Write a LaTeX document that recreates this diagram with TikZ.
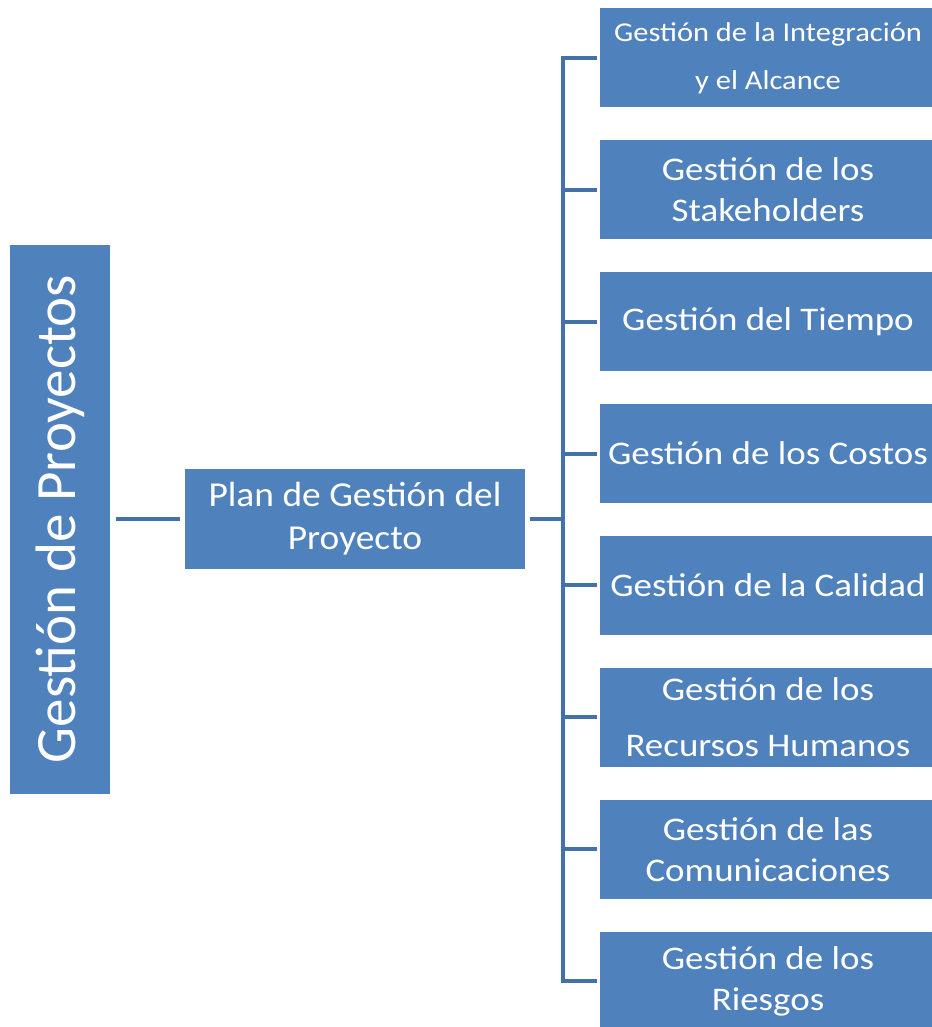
\documentclass[tikz,border=0pt]{standalone}
\usepackage{fontspec}
\setmainfont{Carlito}
\newfontfamily\areafont[FakeStretch=1.12]{Carlito}
\newfontfamily\planfont[FakeStretch=1.07]{Carlito}
\definecolor{boxblue}{HTML}{4F81BD}
\definecolor{linkblue}{HTML}{4472A8}
\newcommand{\smallarea}{\fontsize{20.4}{30.75}\selectfont}
\tikzset{
  areabox/.style={fill=boxblue, text=white, inner sep=0pt, align=center,
    minimum width=252pt, minimum height=74.25pt,
    font=\areafont\fontsize{24.75}{30.75}\selectfont},
  link/.style={draw=linkblue, line width=3pt},
}
\begin{document}
\begin{tikzpicture}[x=0.75pt, y=-0.75pt]
  \useasboundingbox (0,0) rectangle (931,1027);
  %% ── Root and plan ─────────────────────────────────────────
  \node[fill=boxblue, text=white, rotate=90, inner sep=0pt,
        minimum width=411.75pt, minimum height=75pt,
        font=\fontsize{42.75}{50}\selectfont] (root) at (60,519) {Gestión de Proyectos};
  \node[areabox, minimum width=255pt, minimum height=75pt,
        font=\planfont\fontsize{26.25}{32.25}\selectfont] (plan) at (355,519)
        {Plan de Gestión del\\Proyecto};
  \coordinate (bus) at (563,519);
  %% ── Knowledge areas ───────────────────────────────────────
  \foreach \i/\lbl in {
    0/{\smallarea Gestión de la Integración\\[5pt]\smallarea y el Alcance},
    1/{Gestión de los\\Stakeholders},
    2/{Gestión del Tiempo},
    3/{Gestión de los Costos},
    4/{Gestión de la Calidad},
    5/{Gestión de los\\[11pt]Recursos Humanos},
    6/{Gestión de las\\Comunicaciones},
    7/{Gestión de los\\Riesgos}}{
    \node[areabox] (a\i) at (768,{58+131.86*\i}) {\lbl};
  }
  %% ── Connectors ────────────────────────────────────────────
  \draw[link, shorten <=4.5pt, shorten >=3.75pt] (root.south) -- (plan.west);
  \draw[link, shorten <=3.75pt] (plan.east) -- (bus);
  \draw[link, shorten <=2.25pt, shorten >=2.25pt] (a0.west) -| (bus) |- (a7.west);
  \foreach \i in {1,...,6}
    \draw[link, shorten >=2.25pt] (bus |- a\i.west) -- (a\i.west);
\end{tikzpicture}
\end{document}
